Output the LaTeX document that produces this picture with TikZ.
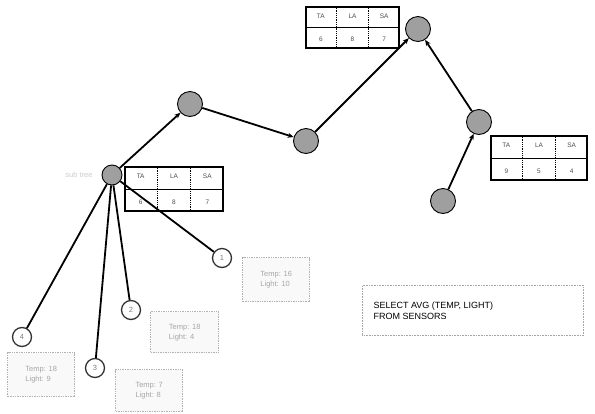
\documentclass[tikz,border=0pt]{standalone}
\usepackage{fontspec}
\setmainfont{Liberation Sans}
\usetikzlibrary{arrows.meta,positioning,calc}
\tikzset{
  sensor/.style={circle,draw=black,line width=0.9pt,fill=gray!75,minimum size=25pt,inner sep=0pt},
  hub/.style={circle,draw=black,line width=0.9pt,fill=gray!75,minimum size=20pt,inner sep=0pt},
  leaf/.style={circle,draw=gray!40!black,line width=1.3pt,fill=white,minimum size=19pt,inner sep=0pt,font=\fontsize{7.5}{8}\selectfont,text=gray},
  leafbox/.style={draw=gray!60,densely dotted,line width=1.4pt,fill=gray!5,align=left,inner sep=3pt,font=\fontsize{7.5}{10}\selectfont,text=gray!70},
  link/.style={line width=1.8pt,black},
  up/.style={link,-{Stealth[length=6pt,width=5pt]}},
  tcell/.style={font=\fontsize{6.5}{7}\selectfont,text=gray!60!black},
  aggbox/.style={draw=black,line width=2pt,inner sep=0pt,anchor=north west},
}
\begin{document}
\begin{tikzpicture}[x=1pt,y=-1pt]
\useasboundingbox (0,0) rectangle (595,413);

% sensor nodes
\node[hub] (A) at (112,175) {};
\node[sensor] (B) at (190,104) {};
\node[sensor] (C) at (306,141) {};
\node[sensor] (D) at (418,29) {};
\node[sensor] (F) at (479,122) {};
\node[sensor] (E) at (443,201) {};

% tables
\node[aggbox,minimum width=93pt,minimum height=41pt] (T1) at (305,6) {};
\node[aggbox,minimum width=98pt,minimum height=44pt] (T2) at (124,166) {};
\node[aggbox,minimum width=96pt,minimum height=44pt] (T3) at (490,135) {};

\foreach \t/\a/\b/\c in {T1/6/8/7, T2/6/8/7, T3/9/5/4}{
  \draw[line width=0.7pt] (\t.west) -- (\t.east);
  \draw[line width=0.8pt,densely dotted] ($(\t.north west)!1/3!(\t.north east)$) -- ($(\t.south west)!1/3!(\t.south east)$);
  \draw[line width=0.8pt,densely dotted] ($(\t.north west)!2/3!(\t.north east)$) -- ($(\t.south west)!2/3!(\t.south east)$);
  \node[tcell] at ($(\t.north west)!1/6!(\t.north east)+(0,10)$) {TA};
  \node[tcell] at ($(\t.north west)!1/2!(\t.north east)+(0,10)$) {LA};
  \node[tcell] at ($(\t.north west)!5/6!(\t.north east)+(0,10)$) {SA};
  \node[tcell] at ($(\t.south west)!1/6!(\t.south east)+(0,-10)$) {\a};
  \node[tcell] at ($(\t.south west)!1/2!(\t.south east)+(0,-10)$) {\b};
  \node[tcell] at ($(\t.south west)!5/6!(\t.south east)+(0,-10)$) {\c};
}

% tree links
\draw[up] (A) -- (B);
\draw[up] (B) -- (C);
\draw[up] (C) -- (D);
\draw[up] (F) -- (D);
\draw[up] (E) -- (F);

% leaves
\node[leaf] (L1) at (22,337) {4};
\node[leaf] (L2) at (95,368) {3};
\node[leaf] (L3) at (131,310) {2};
\node[leaf] (L4) at (222,258) {1};
\draw[link] (A) -- (L1);
\draw[link] (A) -- (L2);
\draw[link] (A) -- (L3);
\draw[link] (A) -- (L4);

\node[leafbox,minimum width=67pt,minimum height=44pt,anchor=north west] (B1) at (7,352) {Temp: 18\\Light: 9};
\node[leafbox,minimum width=67pt,minimum height=42pt,anchor=north west] (B2) at (115,369) {Temp: 7\\Light: 8};
\node[leafbox,minimum width=68pt,minimum height=41pt,anchor=north west] (B3) at (150,311) {Temp: 18\\Light: 4};
\node[leafbox,minimum width=67pt,minimum height=44pt,anchor=north west] (B4) at (242,257) {Temp: 16\\Light: 10};

% side label
\node[text=gray!40,font=\fontsize{7.5}{8}\selectfont,anchor=east] (lab) at (96,175) {sub tree};

% query box
\node[draw=gray!70,densely dotted,line width=0.6pt,minimum width=221pt,minimum height=50pt,anchor=north west] (Q) at (362,285) {};
\node[anchor=west,align=left,font=\fontsize{9}{11}\selectfont] (Qt) at ([xshift=8pt]Q.west) {SELECT AVG (TEMP, LIGHT)\\FROM SENSORS};
\end{tikzpicture}
\end{document}
